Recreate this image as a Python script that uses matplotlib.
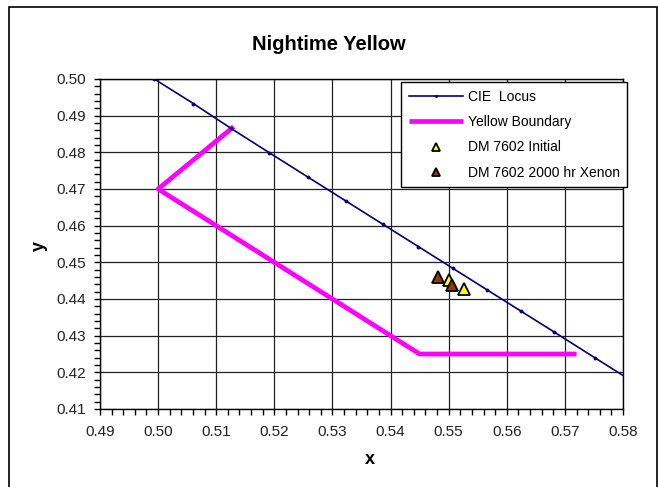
import matplotlib
matplotlib.use("Agg")
import matplotlib.pyplot as plt
from matplotlib.patches import Rectangle
from matplotlib.ticker import MultipleLocator

plt.rcParams['font.family'] = ['Liberation Sans', 'DejaVu Sans']

# CIE 1931 spectral locus, 578-591 nm
locus_x = [0.49925, 0.50606, 0.51249, 0.51913, 0.52573, 0.53226, 0.53870,
           0.54479, 0.55077, 0.55667, 0.56251, 0.56820, 0.57515, 0.58073]
locus_y = [0.50009, 0.49331, 0.48659, 0.47990, 0.47330, 0.46678, 0.46036,
           0.45429, 0.44832, 0.44244, 0.43662, 0.43095, 0.42398, 0.41842]

# nighttime yellow boundary
bound_x = [0.513, 0.500, 0.545, 0.572]
bound_y = [0.487, 0.470, 0.425, 0.425]

# measured samples
init_x = [0.5500, 0.5526]
init_y = [0.4452, 0.4428]
xenon_x = [0.5482, 0.5505]
xenon_y = [0.4459, 0.4439]

fig = plt.figure(figsize=(6.58, 4.87), dpi=100)
ax = fig.add_axes([100/658, 1 - 409/487, 523/658, 330/487])

ax.plot(locus_x, locus_y, color='#000080', lw=1.2, marker='o', ms=1.8,
        label='CIE  Locus', zorder=3)
ax.plot(bound_x, bound_y, color='#FF00FF', lw=3.4, solid_capstyle='butt',
        label='Yellow Boundary', zorder=2)
ax.plot(init_x, init_y, ls='none', marker='^', ms=9, mfc='#FFFF00', mec='black',
        mew=1.3, label='DM 7602 Initial', zorder=4)
ax.plot(xenon_x, xenon_y, ls='none', marker='^', ms=9, mfc='#993300', mec='black',
        mew=1.3, label='DM 7602 2000 hr Xenon', zorder=5)

ax.set_xlim(0.49, 0.58)
ax.set_ylim(0.41, 0.50)
ax.xaxis.set_major_locator(MultipleLocator(0.01))
ax.yaxis.set_major_locator(MultipleLocator(0.01))
ax.xaxis.set_minor_locator(MultipleLocator(0.002))
ax.yaxis.set_minor_locator(MultipleLocator(0.002))
ax.xaxis.set_major_formatter(plt.FormatStrFormatter('%.2f'))
ax.yaxis.set_major_formatter(plt.FormatStrFormatter('%.2f'))
ax.tick_params(which='both', direction='out', length=4, width=1, colors='black',
               labelsize=11, labelcolor='#222222')
ax.tick_params(axis='x', pad=7.5)
ax.tick_params(axis='y', pad=6)
ax.grid(True, which='major', color='#222222', lw=0.9)
ax.set_axisbelow(True)
for s in ax.spines.values():
    s.set_linewidth(1.0)
    s.set_color('black')

fig.text(0.5, 1 - 44/487, 'Nightime Yellow', ha='center', va='center',
         fontsize=14.5, fontweight='bold')
fig.text(370/658, 1 - 459/487, 'x', ha='center', va='center',
         fontsize=13, fontweight='bold')
fig.text(39/658, 1 - 246/487, 'y', ha='center', va='center', rotation=90,
         fontsize=13, fontweight='bold')

leg = ax.legend(loc='upper left', bbox_to_anchor=(401/658, 1 - 82/487),
                bbox_transform=fig.transFigure, fontsize=10, frameon=True,
                fancybox=False, framealpha=1, edgecolor='black',
                handlelength=3.9, handletextpad=0.35, labelspacing=0.82,
                borderpad=0.55, borderaxespad=0, markerscale=0.65)
leg.get_frame().set_linewidth(1.0)

fig.patches.append(Rectangle((9/658, -0.05), 648/658, 1.05 - 7/487,
                             transform=fig.transFigure, fill=False,
                             edgecolor='black', lw=1.2))

fig.savefig('out.png', dpi=100)
